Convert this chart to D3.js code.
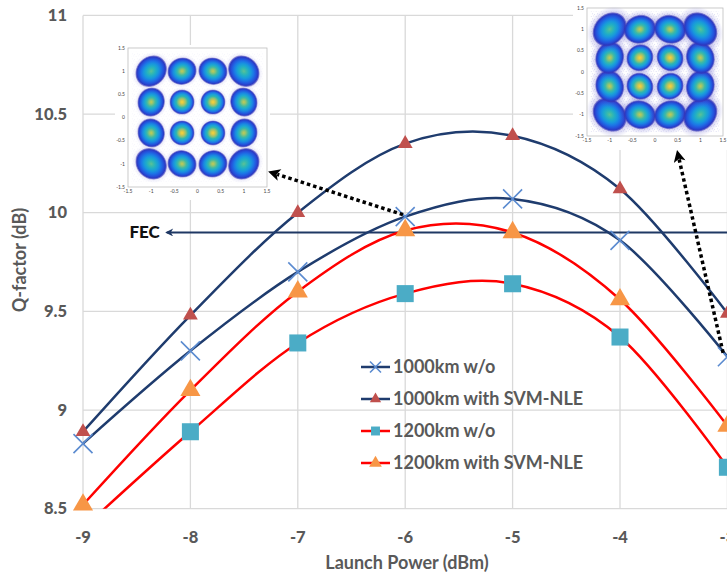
<!DOCTYPE html>
<html>
<head>
<meta charset="utf-8">
<script src="https://cdn.jsdelivr.net/npm/d3@7"></script>
<style>
  body { margin: 0; background: #fff; }
  svg { display: block; font-family: Lato, "Liberation Sans", sans-serif; }
</style>
</head>
<body>
<div id="chart"></div>
<script>
// launch power (dBm) and Q-factor (dB)
const power = [-9, -8, -7, -6, -5, -4, -3];
const q1000wo = [8.83, 9.30, 9.70, 9.98, 10.07, 9.86, 9.27];
const q1000svm = [8.89, 9.48, 10.00, 10.35, 10.39, 10.12, 9.49];
const q1200wo = [8.40, 8.89, 9.34, 9.59, 9.64, 9.37, 8.71];
const q1200svm = [8.52, 9.10, 9.60, 9.91, 9.90, 9.56, 8.92];
const fecLimit = 9.9;

const xTicks = [-9, -8, -7, -6, -5, -4, -3];
const yTicks = [8.5, 9, 9.5, 10, 10.5, 11];

// 16QAM constellation insets
const constLevels = [-1, -1 / 3, 1 / 3, 1];
const insetTicks = [-1.5, -1, -0.5, 0, 0.5, 1, 1.5];

// dotted arrows, in chart units: [power, Q]
const arrowLeft = { from: [-6.02, 9.99], to: [-7.28, 10.21] };
const arrowRight = { from: [-3.04, 9.29], to: [-3.47, 10.32] };
const fecArrowEnd = -8.22;

const W = 727, H = 575;

const svg = d3.select("#chart")
    .append("svg")
        .attr("width", W)
        .attr("height", H);

const defs = svg.append("defs");

const x = d3.scaleLinear()
    .domain([-9, -3])
    .range([83, 727.4]);

const y = d3.scaleLinear()
    .domain([8.5, 11])
    .range([508.7, 15.4]);

defs.append("clipPath").attr("id", "plotClip")
    .append("rect")
        .attr("x", x(-9))
        .attr("y", y(11))
        .attr("width", 700)
        .attr("height", y(8.5) - y(11));

// grid
svg.append("g")
    .selectAll("line")
    .data(xTicks)
    .enter().append("line")
        .attr("x1", d => x(d)).attr("x2", d => x(d))
        .attr("y1", y(11)).attr("y2", y(8.5))
        .attr("stroke", "#d9d9d9")
        .attr("stroke-width", 1.3);

svg.append("g")
    .selectAll("line")
    .data(yTicks)
    .enter().append("line")
        .attr("x1", x(-9)).attr("x2", W)
        .attr("y1", d => y(d)).attr("y2", d => y(d))
        .attr("stroke", "#d9d9d9")
        .attr("stroke-width", 1.3);

// tick labels
svg.append("g")
    .selectAll("text")
    .data(yTicks)
    .enter().append("text")
        .attr("x", 67)
        .attr("y", d => y(d))
        .attr("dy", "0.35em")
        .attr("text-anchor", "end")
        .style("font-size", "16.5px")
        .style("font-weight", "900")
        .style("fill", "#595959")
        .text(d => d);

svg.append("g")
    .selectAll("text")
    .data(xTicks)
    .enter().append("text")
        .attr("x", d => x(d))
        .attr("y", 537)
        .attr("dy", "0.35em")
        .attr("text-anchor", "middle")
        .style("font-size", "16.5px")
        .style("font-weight", "900")
        .style("fill", "#595959")
        .text(d => d);

svg.append("text")
    .attr("x", 407)
    .attr("y", 563)
    .attr("dy", "0.35em")
    .attr("text-anchor", "middle")
    .style("font-size", "18px")
    .style("font-weight", "bold")
    .style("fill", "#595959")
    .text("Launch Power (dBm)");

svg.append("text")
    .attr("transform", "translate(20,260) rotate(-90)")
    .attr("dy", "0.35em")
    .attr("text-anchor", "middle")
    .style("font-size", "18px")
    .style("font-weight", "bold")
    .style("fill", "#595959")
    .text("Q-factor (dB)");

// FEC limit line
defs.append("marker")
    .attr("id", "fecHead")
    .attr("viewBox", "0 0 10 10")
    .attr("refX", 2).attr("refY", 5)
    .attr("markerWidth", 10).attr("markerHeight", 8)
    .attr("markerUnits", "userSpaceOnUse")
    .attr("orient", "auto")
    .append("path")
        .attr("d", "M0,5 L10,0 L7,5 L10,10 Z")
        .attr("fill", "#1f3864");

svg.append("line")
    .attr("x1", x(fecArrowEnd)).attr("x2", W + 10)
    .attr("y1", y(fecLimit)).attr("y2", y(fecLimit))
    .attr("stroke", "#1f3864")
    .attr("stroke-width", 2)
    .attr("marker-start", "url(#fecHead)");

svg.append("text")
    .attr("x", x(fecArrowEnd) - 7)
    .attr("y", y(fecLimit))
    .attr("dy", "0.35em")
    .attr("text-anchor", "end")
    .style("font-size", "17px")
    .style("font-weight", "900")
    .style("fill", "#111")
    .text("FEC");

// series
const series = [
    { label: "1000km w/o", values: q1000wo, line: "#1f3c6e", marker: "x", fill: "#5b8bd0", size: 9.5, legendSize: 5.5 },
    { label: "1000km with SVM-NLE", values: q1000svm, line: "#1f3c6e", marker: "tri", fill: "#c0504d", size: 95, legendSize: 55 },
    { label: "1200km w/o", values: q1200wo, line: "#ff0000", marker: "sq", fill: "#4bacc6", size: 290, legendSize: 80 },
    { label: "1200km with SVM-NLE", values: q1200svm, line: "#ff0000", marker: "tri", fill: "#f79646", size: 175, legendSize: 70 }
];

const curve = d3.line()
    .x(d => x(d[0]))
    .y(d => y(d[1]))
    .curve(d3.curveCardinal.tension(0));

const lineGroup = svg.append("g").attr("clip-path", "url(#plotClip)");

series.forEach(s => {
    lineGroup.append("path")
        .datum(power.map((p, i) => [p, s.values[i]]))
        .attr("fill", "none")
        .attr("stroke", s.line)
        .attr("stroke-width", 2.5)
        .attr("d", curve);
});

const drawMarker = (g, s, cx, cy, size) => {
    if (s.marker === "x") {
        g.append("path")
            .attr("d", `M${cx - size},${cy - size}L${cx + size},${cy + size}M${cx - size},${cy + size}L${cx + size},${cy - size}`)
            .attr("stroke", s.fill)
            .attr("stroke-width", 1.6)
            .attr("fill", "none");
    } else {
        const type = s.marker === "sq" ? d3.symbolSquare : d3.symbolTriangle;
        g.append("path")
            .attr("transform", `translate(${cx},${cy})`)
            .attr("d", d3.symbol().type(type).size(size)())
            .attr("fill", s.fill);
    }
};

const markerGroup = svg.append("g");
series.forEach(s => {
    power.forEach((p, i) => {
        if (s.values[i] < 8.5) return;
        drawMarker(markerGroup, s, x(p), y(s.values[i]), s.size);
    });
});

// constellation insets
const parula = {
    inner: ["#f6d63a", "#d8c64a", "#8cc276", "#2fb6ae", "#1ba2d8", "#1e72e6", "#2a3ecb"],
    edge: ["#c4ca55", "#8fc474", "#3fb9a4", "#1ca9d0", "#1a88e2", "#2159df", "#2a3cc6"],
    corner: ["#5ec097", "#3aba aa".replace(" ", ""), "#20adc6", "#1898dc", "#1c76e6", "#2452dc", "#2b3ac2"]
};
const stopOffsets = [0, 0.14, 0.3, 0.46, 0.62, 0.78, 0.9];

Object.keys(parula).forEach(k => {
    const g = defs.append("radialGradient").attr("id", "blob-" + k);
    parula[k].forEach((c, i) => {
        g.append("stop").attr("offset", stopOffsets[i]).attr("stop-color", c);
    });
    g.append("stop").attr("offset", 1).attr("stop-color", "#3830b0").attr("stop-opacity", 0.35);
});

const halo = defs.append("radialGradient").attr("id", "halo");
halo.append("stop").attr("offset", 0.6).attr("stop-color", "#3b35b8").attr("stop-opacity", 0.5);
halo.append("stop").attr("offset", 1).attr("stop-color", "#6a66d6").attr("stop-opacity", 0);

const speck = defs.append("pattern")
    .attr("id", "speck")
    .attr("width", 5).attr("height", 5)
    .attr("patternUnits", "userSpaceOnUse");
[[0.8, 1.2], [3.4, 0.6], [2.2, 3.5], [4.4, 4.1]].forEach(p => {
    speck.append("rect")
        .attr("x", p[0]).attr("y", p[1])
        .attr("width", 0.7).attr("height", 0.7)
        .attr("fill", "#4a48c0");
});

const drawInset = (cfg) => {
    const g = svg.append("g");
    g.append("rect")
        .attr("x", cfg.panel[0]).attr("y", cfg.panel[1])
        .attr("width", cfg.panel[2]).attr("height", cfg.panel[3])
        .attr("fill", "#fff");

    const ix = d3.scaleLinear().domain([-1.5, 1.5]).range([cfg.box[0], cfg.box[1]]);
    const iy = d3.scaleLinear().domain([-1.5, 1.5]).range([cfg.box[3], cfg.box[2]]);

    g.append("rect")
        .attr("x", ix(-1.5)).attr("y", iy(1.5))
        .attr("width", ix(1.5) - ix(-1.5)).attr("height", iy(-1.5) - iy(1.5))
        .attr("fill", "#fff")
        .attr("stroke", "#bdbdbd")
        .attr("stroke-width", 0.8);

    if (cfg.noise) {
        g.append("rect")
            .attr("x", ix(-1.42)).attr("y", iy(1.42))
            .attr("width", ix(1.42) - ix(-1.42)).attr("height", iy(-1.42) - iy(1.42))
            .attr("fill", "url(#speck)")
            .attr("opacity", cfg.noise);
    }

    const pts = [];
    constLevels.forEach(i => constLevels.forEach(q => pts.push([i, q])));

    const kx = ix(1) - ix(0), ky = iy(0) - iy(1);

    pts.forEach(([i, q]) => {
        const outer = (Math.abs(i) === 1 ? 1 : 0) + (Math.abs(q) === 1 ? 1 : 0);
        const kind = ["inner", "edge", "corner"][outer];
        const r = cfg.r * (outer === 0 ? 0.9 : outer === 1 ? 0.98 : 1.05);
        const stretch = 1 + 0.08 * outer;
        const ang = -Math.atan2(q, i) * 180 / Math.PI + 90;
        const cx = ix(i), cy = iy(q);
        g.append("ellipse")
            .attr("transform", `translate(${cx},${cy}) rotate(${ang})`)
            .attr("rx", r * kx * stretch * cfg.haloScale).attr("ry", r * ky * cfg.haloScale)
            .attr("fill", "url(#halo)")
            .attr("opacity", cfg.halo);
        g.append("ellipse")
            .attr("transform", `translate(${cx},${cy}) rotate(${ang})`)
            .attr("rx", r * kx * stretch).attr("ry", r * ky)
            .attr("fill", `url(#blob-${kind})`);
    });

    g.append("g")
        .selectAll("text")
        .data(insetTicks)
        .enter().append("text")
            .attr("x", d => ix(d))
            .attr("y", iy(-1.5) + 6)
            .attr("text-anchor", "middle")
            .style("font-size", "5px")
            .style("fill", "#444")
            .text(d => d);

    g.append("g")
        .selectAll("text")
        .data(insetTicks)
        .enter().append("text")
            .attr("x", ix(-1.5) - 3)
            .attr("y", d => iy(d) + 1.7)
            .attr("text-anchor", "end")
            .style("font-size", "5px")
            .style("fill", "#444")
            .text(d => d);
};

drawInset({ panel: [115, 45, 155, 155], box: [128, 267, 48, 187], r: 0.3, halo: 0.45, haloScale: 1.22, noise: 0.1 });
drawInset({ panel: [573, -2, 160, 152], box: [587, 723, 8, 136], r: 0.34, halo: 0.7, haloScale: 1.35, noise: 0.35 });

// dotted arrows pointing to the insets
defs.append("marker")
    .attr("id", "dotHead")
    .attr("viewBox", "0 0 10 10")
    .attr("refX", 2).attr("refY", 5)
    .attr("markerWidth", 13).attr("markerHeight", 12)
    .attr("markerUnits", "userSpaceOnUse")
    .attr("orient", "auto")
    .append("path")
        .attr("d", "M0,0 L10,5 L0,10 L2.5,5 Z")
        .attr("fill", "#000");

[arrowLeft, arrowRight].forEach(a => {
    const x1 = x(a.from[0]), y1 = y(a.from[1]);
    const x2 = x(a.to[0]), y2 = y(a.to[1]);
    const len = Math.hypot(x2 - x1, y2 - y1);
    // stop the dotted shaft where the head begins
    const ux = (x2 - x1) / len, uy = (y2 - y1) / len;
    svg.append("line")
        .attr("x1", x1).attr("y1", y1)
        .attr("x2", x2 - ux * 10).attr("y2", y2 - uy * 10)
        .attr("stroke", "#000")
        .attr("stroke-width", 3.5)
        .attr("stroke-dasharray", "3.5,3")
        .attr("marker-end", "url(#dotHead)");
});

// legend
const legendY = [367, 399, 431, 463];
const legend = svg.selectAll(".legend")
    .data(series)
    .enter().append("g")
    .attr("class", "legend");

legend.append("line")
    .attr("x1", 361).attr("x2", 390)
    .attr("y1", (d, i) => legendY[i]).attr("y2", (d, i) => legendY[i])
    .attr("stroke", d => d.line)
    .attr("stroke-width", 2.5);

legend.each(function (d, i) {
    drawMarker(d3.select(this), d, 375.5, legendY[i], d.legendSize);
});

legend.append("text")
    .attr("x", 393)
    .attr("y", (d, i) => legendY[i])
    .attr("dy", "0.35em")
    .style("font-size", "18px")
    .style("font-weight", "bold")
    .style("fill", "#595959")
    .text(d => d.label);
</script>
</body>
</html>
